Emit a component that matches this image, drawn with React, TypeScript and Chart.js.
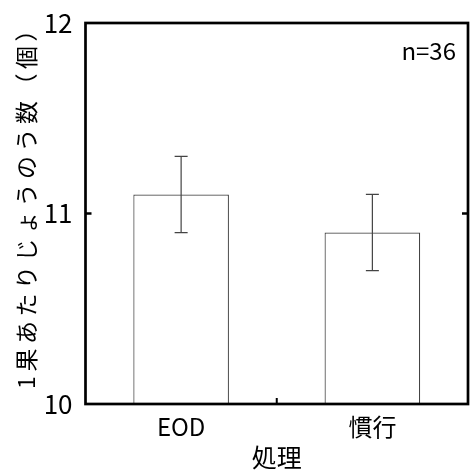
import React, { useEffect, useRef } from "react";
import { Chart, registerables } from "chart.js";

Chart.register(...registerables);

const categories = ["EOD", "慣行"];
const means = [11.1, 10.9];
const errors = [0.2, 0.2];
const yMin = 10;
const yMax = 12;
const yStep = 1;
const yTitle = "1果あたりじょうのう数（個）";
const xTitle = "処理";
const note = "n=36";

const FONT = "'Noto Sans CJK JP', sans-serif";

const decorPlugin = {
  id: "decor",
  afterDatasetsDraw(chart: any) {
    const ctx = chart.ctx;
    const y = chart.scales.y;
    const meta = chart.getDatasetMeta(0);
    ctx.save();
    ctx.strokeStyle = "#444";
    ctx.lineWidth = 1.2;
    meta.data.forEach((bar: any, i: number) => {
      const x = bar.x;
      const top = y.getPixelForValue(means[i] + errors[i]);
      const bot = y.getPixelForValue(means[i] - errors[i]);
      ctx.beginPath();
      ctx.moveTo(x, top);
      ctx.lineTo(x, bot);
      ctx.moveTo(x - 6.5, top);
      ctx.lineTo(x + 6.5, top);
      ctx.moveTo(x - 6.5, bot);
      ctx.lineTo(x + 6.5, bot);
      ctx.stroke();
    });
    ctx.restore();
  },
  afterDraw(chart: any) {
    const ctx = chart.ctx;
    const a = chart.chartArea;
    const y = chart.scales.y;
    const x = chart.scales.x;
    ctx.save();
    ctx.strokeStyle = "#000";
    ctx.lineWidth = 2.7;
    ctx.strokeRect(a.left, a.top, a.right - a.left, a.bottom - a.top);
    ctx.lineWidth = 2.5;
    y.ticks.forEach((t: any) => {
      if (t.value <= yMin || t.value >= yMax) return;
      const py = y.getPixelForValue(t.value);
      ctx.beginPath();
      ctx.moveTo(a.left, py);
      ctx.lineTo(a.left + 6, py);
      ctx.moveTo(a.right, py);
      ctx.lineTo(a.right - 6, py);
      ctx.stroke();
    });
    ctx.lineWidth = 2;
    for (let i = 0; i < categories.length - 1; i++) {
      const px = (x.getPixelForValue(i) + x.getPixelForValue(i + 1)) / 2;
      ctx.beginPath();
      ctx.moveTo(px, a.bottom);
      ctx.lineTo(px, a.bottom - 6);
      ctx.stroke();
    }
    ctx.fillStyle = "#000";
    ctx.font = `24px ${FONT}`;
    ctx.textAlign = "right";
    ctx.textBaseline = "alphabetic";
    ctx.fillText(note, a.right - 12, 60);
    ctx.font = `25px ${FONT}`;
    ctx.textAlign = "center";
    ctx.textBaseline = "middle";
    ctx.fillText(xTitle, (a.left + a.right) / 2, 457);
    ctx.translate(26, (a.top + a.bottom) / 2);
    ctx.rotate(-Math.PI / 2);
    (ctx as any).letterSpacing = "4.5px";
    ctx.font = `23px ${FONT}`;
    ctx.textAlign = "center";
    ctx.textBaseline = "middle";
    ctx.fillText(yTitle, 12, 0);
    ctx.restore();
  },
};

export default function App() {
  const ref = useRef<HTMLCanvasElement | null>(null);
  useEffect(() => {
    if (!ref.current) return;
    const chart = new Chart(ref.current, {
      type: "bar",
      data: {
        labels: categories,
        datasets: [
          {
            data: means,
            backgroundColor: "#ffffff",
            borderColor: "#444",
            borderWidth: 1.2,
            categoryPercentage: 1,
            barPercentage: 0.5,
          },
        ],
      },
      options: {
        animation: false,
        responsive: false,
        devicePixelRatio: 1,
        layout: { padding: { top: 23, right: 2, left: 0, bottom: 0 } },
        plugins: { legend: { display: false }, tooltip: { enabled: false } },
        scales: {
          x: {
            grid: { display: false },
            border: { display: false },
            ticks: {
              color: "#000",
              padding: 0,
              font: { family: FONT, size: 24 },
            },
            afterFit: (s: any) => {
              s.height = 67;
            },
          },
          y: {
            min: yMin,
            max: yMax,
            grid: { display: false },
            border: { display: false },
            ticks: {
              stepSize: yStep,
              color: "#000",
              padding: 5,
              font: { family: FONT, size: 26 },
            },
            afterFit: (s: any) => {
              s.width = 85.5;
            },
          },
        },
      },
      plugins: [decorPlugin],
    });
    return () => chart.destroy();
  }, []);
  return (
    <div style={{ position: "absolute", left: 0, top: 0, width: 470, height: 471, background: "#fff" }}>
      <canvas ref={ref} width={470} height={471} />
    </div>
  );
}
